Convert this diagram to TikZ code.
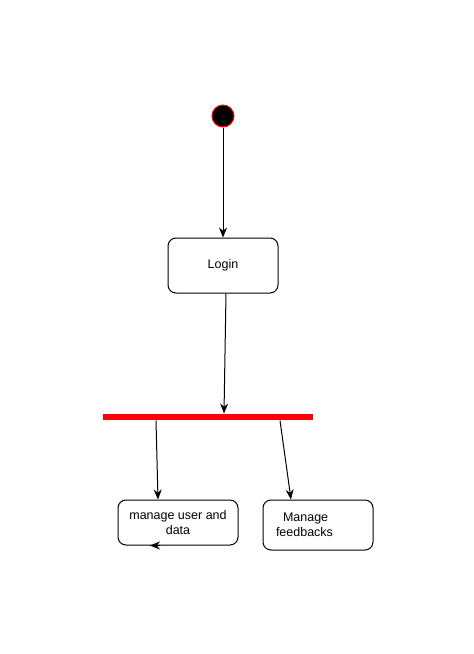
\documentclass[tikz,border=0pt]{standalone}
\usepackage{fontspec}
\setmainfont{Liberation Sans}
\usetikzlibrary{arrows.meta, positioning}

\begin{document}
\begin{tikzpicture}[x=1pt, y=-1pt, line width=1pt,
      state/.style={rectangle, draw, rounded corners=8pt, align=center, font=\fontsize{12.5pt}{15pt}\selectfont},
      start/.style={circle, draw=red, fill=black, minimum size=22pt, inner sep=0pt},
      bar/.style={rectangle, fill=red, minimum width=210pt, minimum height=6pt, inner sep=0pt},
      arrow/.style={-{Stealth[length=10pt, width=8pt]}}]
      \useasboundingbox (0,0) rectangle (474,654);

      \node[start] (init) at (223,116) {};
      \node[state, minimum width=110pt, minimum height=55pt] (login) at (223,265.5) {Login};
      \node[bar] (fork) at (208,417) {};
      \node[state, minimum width=120pt, minimum height=45pt] (user) at (178,522.5) {manage user and\\data};
      \node[state, minimum width=110pt, minimum height=50pt, text width=84pt, align=left] (feedback) at (318,525) {\hspace*{7pt}Manage\\feedbacks};

      % Flow
      \draw[arrow] (init) -- (login);
      \draw[arrow] ([xshift=3pt]login.south) -- ([xshift=16pt]fork.north);
      \draw[arrow] ([xshift=-52pt]fork.south) -- ([xshift=-20pt]user.north);
      \draw[arrow] ([xshift=72pt]fork.south) -- ([xshift=-27pt]feedback.north);

      % Stray tip on the bottom edge
      \draw[arrow] ([xshift=-18pt]user.south) -- ([xshift=-28pt]user.south);
    \end{tikzpicture}
\end{document}
